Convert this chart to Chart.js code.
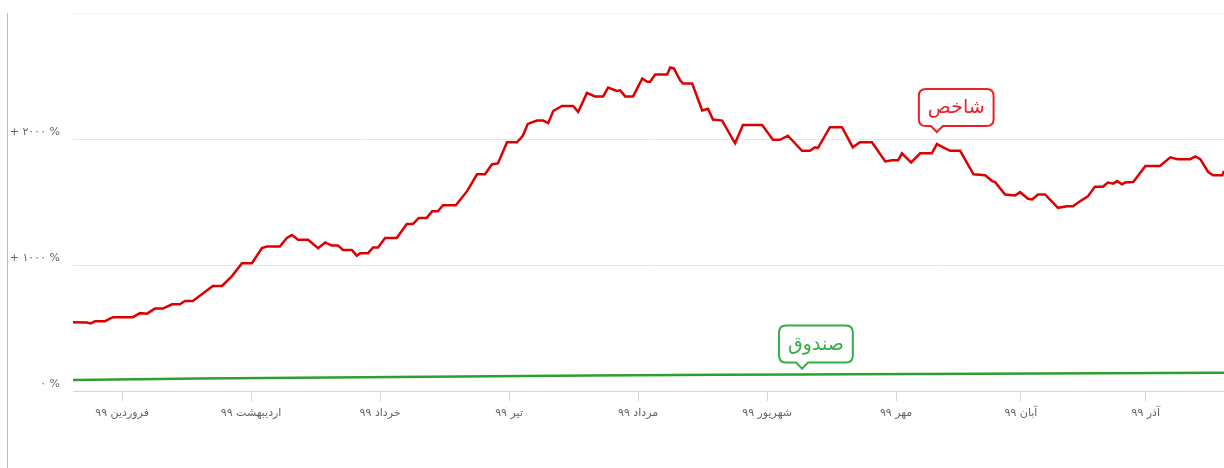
<!DOCTYPE html>
<html>
<head>
<meta charset="utf-8">
<script src="https://cdn.jsdelivr.net/npm/chart.js@4"></script>
<style>
  html, body { margin: 0; padding: 0; background: #fff; }
  #wrap { position: relative; width: 1224px; height: 468px; }
  #edge { position: absolute; left: 7px; top: 13px; bottom: 0; width: 1px; background: #9fc4ec; }
</style>
</head>
<body>
<div id="wrap">
  <div id="edge"></div>
  <canvas id="chart" width="1224" height="468"></canvas>
</div>
<script>
// x = days from 1 Farvardin 99, y = percent return
const indexDays = [-11.8, -8.5, -7.5, -6.5, -4.1, -2.2, 2.6, 4.3, 6.0, 7.9, 9.8, 12.0, 13.9, 15.1, 17.0, 19.4, 21.8, 24.0, 26.4, 28.8,
  31.2, 33.6, 34.8, 37.9, 39.6, 40.8, 42.3, 44.7, 47.1, 48.8, 50.4, 51.9, 53.1, 55.2, 56.4, 57.2, 59.1, 60.3, 61.5, 63.2,
  66.0, 68.4, 69.9, 71.3, 73.2, 74.5, 75.9, 77.1, 80.2, 82.9, 85.3, 87.2, 88.9, 90.3, 92.5, 94.9, 96.3, 97.5, 99.7, 101.2,
  102.4, 103.6, 105.7, 108.4, 109.6, 111.7, 113.6, 115.6, 116.8, 118.9, 119.7, 120.9, 122.8, 125.0, 126.2, 126.9, 128.1, 131.0, 131.7, 132.6,
  134.1, 134.8, 137.0, 139.4, 140.8, 142.0, 144.2, 147.3, 149.2, 153.8, 156.4, 158.1, 160.0, 163.4, 165.3, 166.5, 167.2, 170.1, 173.0, 175.6,
  177.3, 180.2, 183.4, 185.0, 186.5, 187.4, 189.6, 191.8, 194.6, 195.8, 197.3, 199.0, 201.4, 204.6, 207.4, 209.1, 209.8, 212.2, 214.6, 215.8,
  217.7, 218.7, 220.1, 221.8, 224.9, 227.1, 228.5, 230.2, 232.1, 233.8, 235.7, 236.9, 238.2, 239.1, 240.3, 241.0, 243.0, 245.9, 249.4, 251.9,
  253.6, 256.7, 257.9, 259.1, 261.0, 262.2, 264.4, 264.8];
const indexValues = [546, 544, 536, 554, 554, 586, 586, 618, 614, 654, 654, 688, 688, 714, 714, 774, 834, 834, 912, 1014,
  1014, 1134, 1146, 1146, 1214, 1238, 1200, 1200, 1134, 1178, 1154, 1154, 1120, 1120, 1074, 1094, 1094, 1138, 1138, 1214,
  1214, 1326, 1326, 1374, 1374, 1426, 1426, 1474, 1474, 1586, 1720, 1720, 1800, 1806, 1974, 1974, 2026, 2120, 2146, 2146,
  2126, 2222, 2262, 2262, 2214, 2366, 2338, 2338, 2408, 2382, 2386, 2338, 2338, 2480, 2454, 2454, 2512, 2512, 2568, 2560,
  2466, 2440, 2440, 2226, 2240, 2154, 2146, 1966, 2112, 2112, 1994, 1994, 2026, 1906, 1906, 1934, 1928, 2094, 2094, 1934,
  1974, 1974, 1822, 1832, 1832, 1886, 1814, 1886, 1886, 1960, 1934, 1906, 1906, 1720, 1712, 1666, 1658, 1560, 1552, 1578,
  1526, 1520, 1560, 1560, 1454, 1466, 1466, 1506, 1546, 1622, 1622, 1654, 1646, 1666, 1640, 1654, 1658, 1786, 1786, 1854,
  1840, 1840, 1862, 1840, 1738, 1712, 1712, 1746];

const fundDays = [-11.8, 18.7, 50.0, 81.2, 112.5, 143.7, 163.4, 175.0, 206.2, 235.0, 264.8];
const fundValues = [88, 100, 108, 116, 124, 128, 130, 132, 136, 140, 144];

const monthStarts = [0, 31, 62, 93, 124, 155, 186, 216, 246];
const monthLabels = ['فروردین ۹۹', 'اردیبهشت ۹۹', 'خرداد ۹۹', 'تیر ۹۹', 'مرداد ۹۹', 'شهریور ۹۹', 'مهر ۹۹', 'آبان ۹۹', 'آذر ۹۹'];

const yTicks = [0, 1000, 2000, 3000];
const yTickLabels = ['۰ %', '+ ۱۰۰۰ %', '+ ۲۰۰۰ %', ''];

const seriesNames = ['شاخص', 'صندوق'];
const seriesColors = ['#dd0000', '#2e9e2e'];
const calloutColors = ['#e8222a', '#35ad45'];
// which point of each series carries the name bubble
const calloutDays = [195.8, 163.4];

const toXY = (xs, ys) => xs.map((x, i) => ({ x, y: ys[i] }));

const calloutPlugin = {
  id: 'callouts',
  afterDatasetsDraw(chart) {
    const ctx = chart.ctx;
    chart.data.datasets.forEach((ds, di) => {
      const idx = ds.data.findIndex(p => p.x === calloutDays[di]);
      const pt = chart.getDatasetMeta(di).data[idx];
      if (!pt) return;
      ctx.save();
      ctx.font = '19px "DejaVu Sans"';
      const w = ctx.measureText(seriesNames[di]).width + 18;
      const h = 37;
      const tipX = pt.x, tipY = pt.y - (di === 0 ? 12 : 6);
      const bottom = tipY - 6;
      const left = tipX - (di === 0 ? 18 : 23);
      const top = bottom - h;
      const r = 7;
      ctx.beginPath();
      ctx.moveTo(left + r, top);
      ctx.lineTo(left + w - r, top);
      ctx.quadraticCurveTo(left + w, top, left + w, top + r);
      ctx.lineTo(left + w, bottom - r);
      ctx.quadraticCurveTo(left + w, bottom, left + w - r, bottom);
      ctx.lineTo(tipX + 6, bottom);
      ctx.lineTo(tipX, tipY);
      ctx.lineTo(tipX - 6, bottom);
      ctx.lineTo(left + r, bottom);
      ctx.quadraticCurveTo(left, bottom, left, bottom - r);
      ctx.lineTo(left, top + r);
      ctx.quadraticCurveTo(left, top, left + r, top);
      ctx.closePath();
      ctx.fillStyle = '#fff';
      ctx.fill();
      ctx.lineWidth = 2;
      ctx.strokeStyle = calloutColors[di];
      ctx.stroke();
      ctx.fillStyle = calloutColors[di];
      ctx.textAlign = 'center';
      ctx.textBaseline = 'middle';
      ctx.fillText(seriesNames[di], left + w / 2, top + h / 2 + 1);
      ctx.restore();
    });
  }
};

new Chart(document.getElementById('chart'), {
  type: 'line',
  data: {
    datasets: [
      {
        label: seriesNames[0],
        data: toXY(indexDays, indexValues),
        borderColor: seriesColors[0],
        borderWidth: 2.5,
        pointRadius: 0,
        tension: 0
      },
      {
        label: seriesNames[1],
        data: toXY(fundDays, fundValues),
        borderColor: seriesColors[1],
        borderWidth: 2.5,
        pointRadius: 0,
        tension: 0
      }
    ]
  },
  options: {
    responsive: false,
    animation: false,
    layout: { padding: { top: 13, left: 0, right: 0, bottom: 0 } },
    plugins: { legend: { display: false }, tooltip: { enabled: false } },
    scales: {
      x: {
        type: 'linear',
        min: -11.8,
        max: 264.8,
        afterBuildTicks: s => { s.ticks = monthStarts.map(v => ({ value: v })); },
        afterFit: s => { s.height = 77; s.paddingLeft = 0; s.paddingRight = 0; },
        grid: { drawOnChartArea: false, drawTicks: true, tickLength: 10, color: '#ccd6eb' },
        border: { display: true, color: '#ccd6eb', width: 1 },
        ticks: {
          autoSkip: false,
          maxRotation: 0,
          padding: 6,
          color: '#666',
          font: { family: 'DejaVu Sans', size: 11 },
          callback: (v, i) => monthLabels[i]
        }
      },
      y: {
        min: 0,
        max: 3000,
        afterBuildTicks: s => { s.ticks = yTicks.map(v => ({ value: v })); },
        afterFit: s => { s.width = 73; s.paddingTop = 0; s.paddingBottom = 0; },
        grid: {
          drawTicks: false,
          color: c => c.tick && c.tick.value === 3000 ? '#f3f3f3' : '#e6e6e6'
        },
        border: { display: false },
        ticks: {
          padding: 13,
          labelOffset: -7,
          color: '#666',
          font: { family: 'DejaVu Sans', size: 11 },
          callback: (v, i) => yTickLabels[i]
        }
      }
    }
  },
  plugins: [calloutPlugin]
});
</script>
</body>
</html>
